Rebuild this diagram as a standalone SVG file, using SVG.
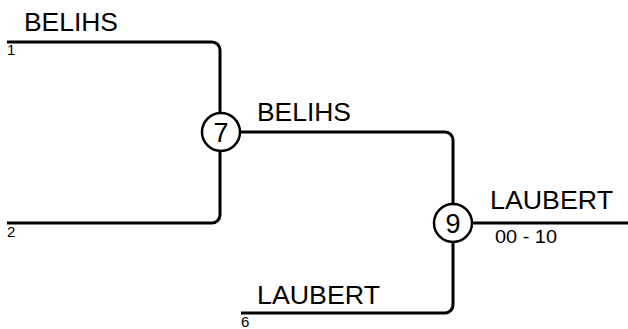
<svg xmlns="http://www.w3.org/2000/svg" width="628" height="329" viewBox="0 0 628 329">
<style>
.ln{fill:none;stroke:#000;stroke-width:3}
.nd{fill:#fff;stroke:#000;stroke-width:2.5}
.nm{font-family:"Liberation Sans",Arial,sans-serif;font-size:27px;fill:#000;text-anchor:middle}
.lb{font-family:"Liberation Sans",Arial,sans-serif;font-size:25px;fill:#000}
.sd{font-family:"Liberation Sans",Arial,sans-serif;font-size:15px;fill:#000}
.sc{font-family:"Liberation Sans",Arial,sans-serif;font-size:18px;fill:#000}
</style>
<rect width="628" height="329" fill="#fff"/>
<g id="connectors">
<path class="ln" d="M7,42 H212 A8,8 0 0 1 220,50 V113"/>
<path class="ln" d="M7,223 H212 A8,8 0 0 0 220,215 V151"/>
<path class="ln" d="M240,132 H445 A8,8 0 0 1 453,140 V204"/>
<path class="ln" d="M241,313 H445 A8,8 0 0 0 453,305 V242"/>
<path class="ln" d="M472,223 H628"/>
</g>
<g id="seed1"><text class="lb" x="24" y="31" textLength="94" lengthAdjust="spacingAndGlyphs">BELIHS</text><text class="sd" x="7" y="55">1</text></g>
<g id="seed2"><text class="sd" x="7" y="237">2</text></g>
<g id="seed6"><text class="lb" x="257" y="304" textLength="123" lengthAdjust="spacingAndGlyphs">LAUBERT</text><text class="sd" x="241" y="327">6</text></g>
<g id="node7"><circle class="nd" cx="221" cy="132" r="19"/><text class="nm" x="221" y="141.5">7</text><text class="lb" x="257" y="121" textLength="94" lengthAdjust="spacingAndGlyphs">BELIHS</text></g>
<g id="node9"><circle class="nd" cx="453" cy="223" r="19"/><text class="nm" x="453" y="232.5">9</text><text class="lb" x="490" y="209" textLength="123" lengthAdjust="spacingAndGlyphs">LAUBERT</text><text class="sc" x="495" y="243" textLength="62" lengthAdjust="spacingAndGlyphs">00 - 10</text></g>
</svg>
